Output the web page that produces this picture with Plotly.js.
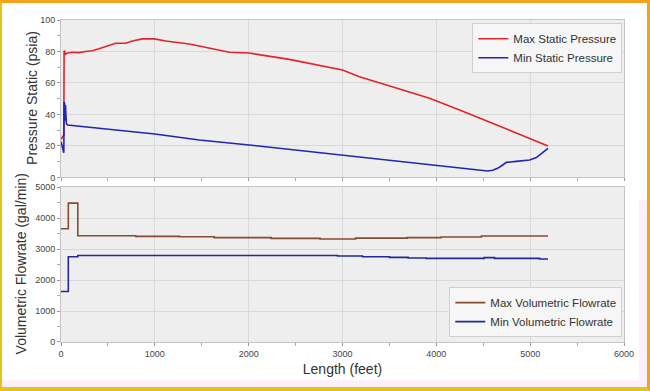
<!DOCTYPE html>
<html>
<head>
<meta charset="utf-8">
<script src="https://cdn.plot.ly/plotly-3.0.1.min.js"></script>
<style>
  html, body { margin: 0; padding: 0; background: #ffffff; }
  #wrap { position: relative; width: 650px; height: 391px; overflow: hidden; }
  #chart { position: absolute; left: 0; top: 0; width: 650px; height: 391px; }
  .tint { position: absolute; background: #fdf0fa; pointer-events: none; }
  #frame { position: absolute; left: 0; top: 0; width: 650px; height: 391px; box-sizing: border-box;
           border-top: 3px solid #f6a21c; border-right: 3px solid #f0a31e;
           border-left: 2px solid #e8c21a; border-bottom: 4px solid #e2c41c; pointer-events: none; }
</style>
</head>
<body>
<div id="wrap">
  <div class="tint" style="left:639px; top:200px; width:8px; height:188px;"></div>
  <div class="tint" style="left:2px; top:380px; width:646px; height:8px;"></div>
  <div id="chart"></div>
  <div id="frame"></div>
</div>
<script>
// ---- Static pressure (psia) vs length (feet)
const maxPressureX = [0, 30, 33, 38, 45, 70, 121, 192, 263, 334, 405, 477, 583, 690, 761, 868, 993, 1117, 1366, 1473, 1793, 2006, 2433, 3000, 3180, 3469, 3927, 4248, 5190];
const maxPressureY = [24.2, 27, 80, 80.5, 78.2, 79, 79.5, 79.3, 80, 80.5, 81.8, 83, 85.2, 85.2, 86.7, 88, 88, 86.7, 84.8, 83.5, 79.5, 79, 75, 68.3, 64, 58.7, 50.3, 42.9, 20];

const minPressureX = [0, 30, 33, 38, 44, 48, 52, 58, 70, 1000, 1473, 2006, 3000, 3927, 4546, 4600, 4653, 4700, 4746, 4850, 4994, 5066, 5137, 5190];
const minPressureY = [22.7, 15.7, 48, 47, 36, 46, 40, 34, 33.3, 27.6, 23.8, 20.6, 14.3, 8.4, 4.1, 4.6, 5.8, 7.6, 9.6, 10.2, 11.1, 12.6, 15.7, 18.5];

// ---- Volumetric flowrate (gal/min) vs length (feet), stepwise
const maxFlowX = [0, 78, 179, 797, 1263, 1633, 2240, 2760, 3140, 3690, 4050, 4480, 5190];
const maxFlowY = [3655, 4484, 3430, 3410, 3400, 3370, 3345, 3325, 3355, 3370, 3390, 3420, 3420];

const minFlowX = [0, 78, 179, 2947, 3213, 3500, 3700, 3890, 4510, 4620, 5100, 5190];
const minFlowY = [1632, 2752, 2794, 2774, 2753, 2731, 2710, 2700, 2725, 2700, 2680, 2680];

const seriesNames = ["Max Static Pressure", "Min Static Pressure", "Max Volumetric Flowrate", "Min Volumetric Flowrate"];
const seriesColors = ["#e3232c", "#2424b4", "#8a4a2e", "#26269c"];

const xTitle = "Length (feet)";
const y1Title = "Pressure Static (psia)";
const y2Title = "Volumetric Flowrate (gal/min)";

const traces = [
  { x: maxPressureX, y: maxPressureY, name: seriesNames[0], type: "scatter", mode: "lines",
    line: { color: seriesColors[0], width: 1.6 }, xaxis: "x", yaxis: "y", legend: "legend" },
  { x: minPressureX, y: minPressureY, name: seriesNames[1], type: "scatter", mode: "lines",
    line: { color: seriesColors[1], width: 1.6 }, xaxis: "x", yaxis: "y", legend: "legend" },
  { x: maxFlowX, y: maxFlowY, name: seriesNames[2], type: "scatter", mode: "lines",
    line: { color: seriesColors[2], width: 1.6, shape: "hv" }, xaxis: "x2", yaxis: "y2", legend: "legend2" },
  { x: minFlowX, y: minFlowY, name: seriesNames[3], type: "scatter", mode: "lines",
    line: { color: seriesColors[3], width: 1.6, shape: "hv" }, xaxis: "x2", yaxis: "y2", legend: "legend2" }
];

const fontFamily = "Liberation Sans, Arial, sans-serif";
const tickFont = { family: fontFamily, size: 9, color: "#444444" };
const titleFont = { family: fontFamily, size: 14, color: "#333333" };
const gridColor = "#d9d9d9";
const lineColor = "#c4c4c4";

const commonX = {
  range: [0, 6000], dtick: 1000, showgrid: true, gridcolor: gridColor, zeroline: false,
  showline: true, linecolor: lineColor, mirror: true, ticks: "outside", ticklen: 3, tickcolor: "#999999",
  minor: { dtick: 500, ticks: "outside", ticklen: 3, tickcolor: "#aaaaaa", showgrid: false },
  tickfont: tickFont, fixedrange: true
};

const layout = {
  width: 650, height: 391,
  margin: { l: 61, r: 26, t: 20, b: 49 },
  paper_bgcolor: "rgba(0,0,0,0)",
  plot_bgcolor: "#eeeeee",
  showlegend: true,
  xaxis: Object.assign({}, commonX, { anchor: "y", showticklabels: false, matches: "x2" }),
  xaxis2: Object.assign({}, commonX, { anchor: "y2",
    title: { text: xTitle, font: titleFont, standoff: 6 } }),
  yaxis: {
    domain: [0.511, 1], range: [0, 100], dtick: 20, showgrid: true, gridcolor: gridColor, zeroline: false,
    showline: true, linecolor: lineColor, mirror: true, ticks: "outside", ticklen: 3, tickcolor: "#999999",
    minor: { dtick: 10, ticks: "outside", ticklen: 3, tickcolor: "#aaaaaa", showgrid: false },
    tickfont: tickFont, fixedrange: true
  },
  yaxis2: {
    domain: [0, 0.481], range: [0, 5000], dtick: 1000, showgrid: true, gridcolor: gridColor, zeroline: false,
    showline: true, linecolor: lineColor, mirror: true, ticks: "outside", ticklen: 3, tickcolor: "#999999",
    minor: { dtick: 500, ticks: "outside", ticklen: 3, tickcolor: "#aaaaaa", showgrid: false },
    tickfont: tickFont, fixedrange: true
  },
  annotations: [
    { text: y1Title, xref: "paper", yref: "paper", x: -0.0515, y: 0.758, xanchor: "center", yanchor: "middle",
      textangle: -90, showarrow: false, font: titleFont },
    { text: y2Title, xref: "paper", yref: "paper", x: -0.071, y: 0.241, xanchor: "center", yanchor: "middle",
      textangle: -90, showarrow: false, font: titleFont }
  ],
  legend: {
    x: 0.997, xanchor: "right", y: 0.99, yanchor: "top", yref: "paper",
    bgcolor: "#f6f6f6", bordercolor: "#d0d0d0", borderwidth: 1,
    font: { family: fontFamily, size: 11.5, color: "#333333" },
    tracegroupgap: 0, itemwidth: 30
  },
  legend2: {
    x: 0.997, xanchor: "right", y: 0.015, yanchor: "bottom", yref: "paper",
    bgcolor: "#f6f6f6", bordercolor: "#d0d0d0", borderwidth: 1,
    font: { family: fontFamily, size: 11.5, color: "#333333" },
    tracegroupgap: 0, itemwidth: 30
  }
};

Plotly.newPlot("chart", traces, layout, { displayModeBar: false, staticPlot: true });
</script>
</body>
</html>
